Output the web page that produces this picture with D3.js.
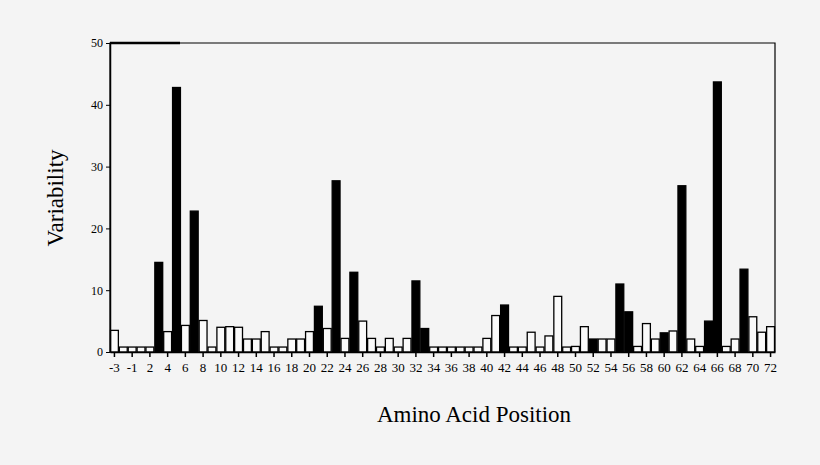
<!DOCTYPE html>
<html><head><meta charset="utf-8">
<script src="https://cdn.jsdelivr.net/npm/d3@7"></script>
<style>body{margin:0;background:#f4f4f4}</style></head>
<body><svg id="c" width="820" height="465"></svg>
<script>
const positions = [-3,-2,-1,1,2,3,4,5,6,7,8,9,10,11,12,13,14,15,16,17,18,19,20,21,22,23,24,25,26,27,28,29,30,31,32,33,34,35,36,37,38,39,40,41,42,43,44,45,46,47,48,49,50,51,52,53,54,55,56,57,58,59,60,61,62,63,64,65,66,67,68,69,70,71,72];
const variability = [3.5,0.8,0.8,0.8,0.8,14.5,3.3,42.8,4.3,22.8,5.1,0.8,4.0,4.1,4.0,2.1,2.1,3.3,0.8,0.8,2.1,2.1,3.3,7.4,3.8,27.7,2.2,12.9,5.0,2.2,0.8,2.2,0.8,2.2,11.5,3.8,0.8,0.8,0.8,0.8,0.8,0.8,2.2,5.9,7.6,0.8,0.8,3.2,0.8,2.6,9.0,0.8,0.9,4.1,2.1,2.1,2.1,11.0,6.5,0.9,4.6,2.1,3.1,3.4,26.9,2.1,0.9,5.0,43.7,0.9,2.1,13.4,5.7,3.2,4.1];
const highlighted = [3,5,7,21,23,25,32,33,42,52,55,56,60,62,65,66,69];
const tickLabels = [-3,-1,2,4,6,8,10,12,14,16,18,20,22,24,26,28,30,32,34,36,38,40,42,44,46,48,50,52,54,56,58,60,62,64,66,68,70,72];
const yTicks = [0,10,20,30,40,50];

const svg = d3.select("#c");
const L=110,R=775,T=43,B=352;
const x = d3.scaleBand().domain(positions).range([L,R]).padding(0);
const y = d3.scaleLinear().domain([0,50]).range([B,T]);
const font = "'Liberation Serif','Times New Roman',serif";

svg.append("g").selectAll("rect").data(positions).join("rect")
  .attr("x",d=>x(d)+0.5).attr("width",x.bandwidth()-1)
  .attr("y",(d,i)=>y(variability[i])).attr("height",(d,i)=>B-y(variability[i]))
  .attr("fill",d=>highlighted.includes(d)?"#000":"#fafafa")
  .attr("stroke","#000").attr("stroke-width",1.3);

svg.append("path").attr("d",`M${L},${B}V${T}H${R}V${B}`).attr("fill","none").attr("stroke","#000").attr("stroke-width",1.2);
svg.append("line").attr("x1",L).attr("x2",180).attr("y1",T).attr("y2",T).attr("stroke","#000").attr("stroke-width",2.5);

const xa = svg.append("g").attr("transform",`translate(0,${B})`)
  .call(d3.axisBottom(x).tickValues(tickLabels).tickSize(5).tickSizeOuter(0));
xa.select(".domain").attr("stroke-width",1.5);
xa.selectAll("line").attr("stroke-width",1.5);
xa.selectAll("text").attr("font-family",font).attr("font-size",13).attr("fill","#000").attr("dy","0.9em");

const ya = svg.append("g").attr("transform",`translate(${L},0)`)
  .call(d3.axisLeft(y).tickValues(yTicks).tickSize(4).tickSizeOuter(0));
ya.select(".domain").attr("stroke-width",1.5);
ya.selectAll("text").attr("font-family",font).attr("font-size",12).attr("fill","#000");

svg.append("text").attr("x",474).attr("y",422).attr("text-anchor","middle")
  .attr("font-family",font).attr("font-size",23).text("Amino Acid Position");
svg.append("text").attr("transform","translate(63,198) rotate(-90)").attr("text-anchor","middle")
  .attr("font-family",font).attr("font-size",23).text("Variability");
</script></body></html>
